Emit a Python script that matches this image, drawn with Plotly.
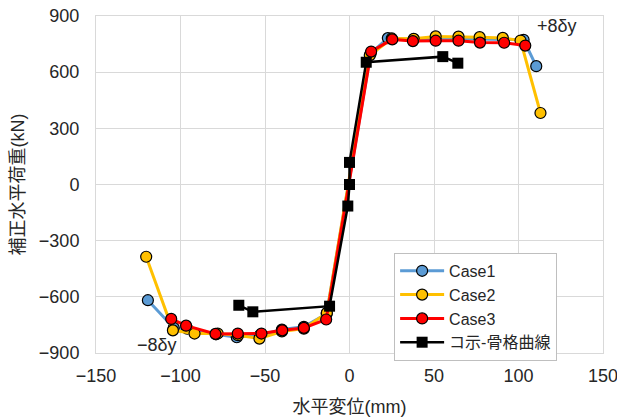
import plotly.graph_objects as go

case1_x = [-119.3, -104.0, -96.0, -79.0, -66.7, -53.0, -40.0, -27.0, -13.5, 12.5, 22.7, 38.0, 51.0, 64.5, 77.0, 91.0, 103.0, 110.5]
case1_y = [-618, -766, -770, -800, -816, -805, -775, -760, -690, 700, 782, 775, 780, 778, 775, 773, 773, 632]

case2_x = [-120.3, -104.5, -91.7, -78.0, -66.0, -53.3, -40.0, -27.0, -13.4, 12.0, 25.0, 38.0, 51.0, 64.5, 77.0, 90.7, 101.2, 113.0]
case2_y = [-386, -779, -796, -796, -805, -823, -785, -770, -686, 690, 780, 778, 791, 790, 787, 783, 769, 382]

case3_x = [-105.5, -96.7, -79.3, -66.1, -52.1, -39.8, -27.0, -13.8, 12.8, 25.3, 37.5, 51.0, 64.5, 77.2, 91.5, 104.0]
case3_y = [-718, -754, -798, -796, -796, -779, -766, -721, 710, 775, 766, 768, 768, 758, 757, 742]

skel_x = [-65.5, -57.2, -11.8, -1.0, 0.0, 0.0, 9.9, 55.2, 64.1]
skel_y = [-645, -680, -650, -115, 0, 118, 653, 683, 648]

font_fam = "Liberation Sans, Arial, Noto Sans CJK JP, sans-serif"
FS = 18

fig = go.Figure()

def add_case(x, y, color, name):
    fig.add_trace(go.Scatter(
        x=x, y=y, name=name, mode="lines+markers",
        line=dict(color=color, width=3),
        marker=dict(symbol="circle", size=11, color=color, line=dict(color="black", width=1.2)),
    ))

add_case(case1_x, case1_y, "#5B9BD5", "Case1")
add_case(case2_x, case2_y, "#FFC000", "Case2")
add_case(case3_x, case3_y, "#FF0000", "Case3")
fig.add_trace(go.Scatter(
    x=skel_x, y=skel_y, name="コ示-骨格曲線", mode="lines+markers",
    line=dict(color="black", width=2.5),
    marker=dict(symbol="square", size=11, color="black"),
))

fig.add_annotation(x=123, y=845, text="+8δy", showarrow=False,
                   font=dict(size=FS, color="#262626", family=font_fam))
fig.add_annotation(x=-114, y=-855, text="−8δy", showarrow=False,
                   font=dict(size=FS, color="#262626", family=font_fam))

axis_common = dict(
    showgrid=True, gridcolor="#d9d9d9", gridwidth=1,
    showline=True, linecolor="#d9d9d9", linewidth=1, mirror=True,
    zeroline=False, ticks="", automargin=False, ticklabeloverflow="allow",
    tickfont=dict(size=FS, color="#262626", family=font_fam),
)

fig.update_layout(
    width=617, height=420,
    margin=dict(l=96, r=14, t=16, b=67),
    paper_bgcolor="white", plot_bgcolor="white",
    font=dict(family=font_fam, color="#262626"),
    xaxis=dict(range=[-150, 150], dtick=50, tick0=0, ticklabelstandoff=6,
               title=dict(text="水平変位(mm)", font=dict(size=FS, family=font_fam), standoff=15),
               **axis_common),
    yaxis=dict(range=[-900, 900], dtick=300, tick0=0, ticklabelstandoff=12,
               title=dict(text="補正水平荷重(kN)", font=dict(size=FS, family=font_fam), standoff=9),
               **axis_common),
    legend=dict(x=0.588, y=0.297, xanchor="left", yanchor="top",
                bgcolor="white", bordercolor="#bfbfbf", borderwidth=1,
                font=dict(size=16, family=font_fam, color="#262626"),
                tracegroupgap=0, itemwidth=44,
                entrywidth=175, entrywidthmode="pixels"),
    showlegend=True,
)

fig.write_html("out.html", config={"displayModeBar": False},
               post_script="document.body.style.margin='0';document.body.style.overflow='hidden';")
